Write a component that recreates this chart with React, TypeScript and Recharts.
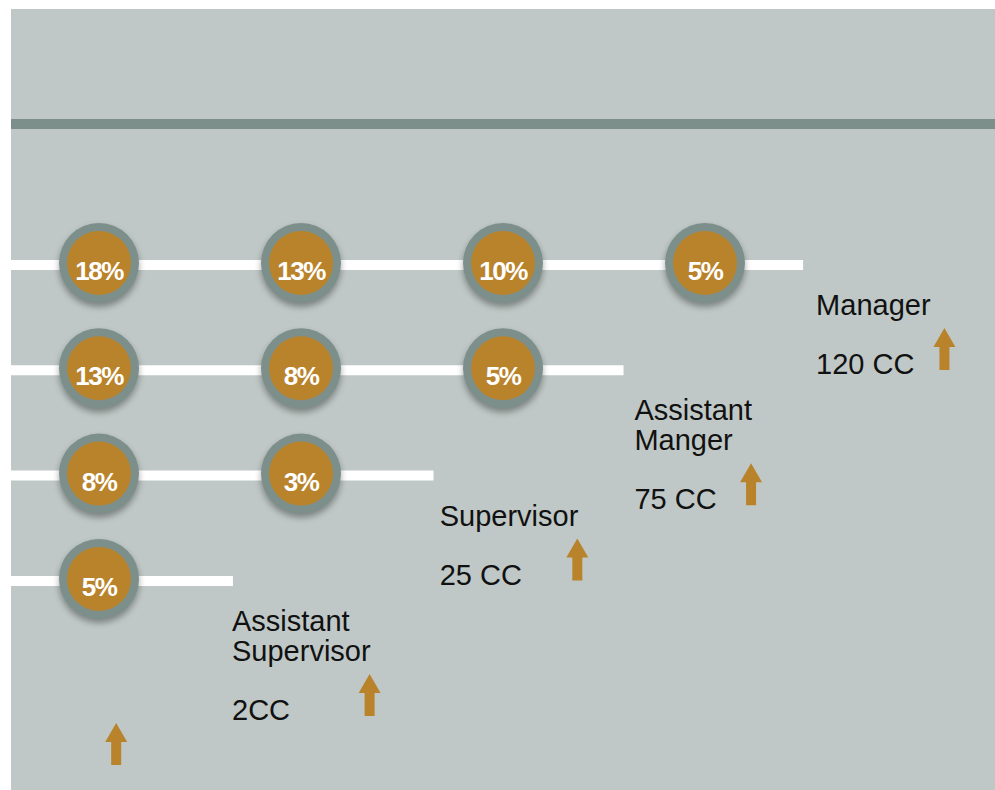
import { ReferenceLine, Scatter, ScatterChart, XAxis, YAxis } from "recharts";

// levels, top row first
const levelNames = [["Manager"], ["Assistant", "Manger"], ["Supervisor"], ["Assistant", "Supervisor"]];
const credits = ["120 CC", "75 CC", "25 CC", "2CC"];
const rates = [
  [18, 13, 10, 5],
  [13, 8, 5],
  [8, 3],
  [5],
];

const W = 984;
const H = 781;
const COL_PX = 202;
const ROW_PX = 105.3;
const X0 = -88 / COL_PX;
const Y0 = -256 / ROW_PX;
const X1 = X0 + W / COL_PX;
const Y1 = Y0 + H / ROW_PX;

const BG = "#BFC8C6";
const RING = "#7C8F8A";
const GOLD = "#B9832B";
const FONT = "'Liberation Sans', Arial, Helvetica, sans-serif";
const LABEL_SIZE = 29;

// track end / label start (in column units) for a row holding n bubbles
const lineEnd = (n: number) => (21.9 + 216.3 * n - 5.25 * n * n - 99) / COL_PX;
const labelStart = (n: number) => (11.3 + 227.2 * n - 6.5 * n * n - 99) / COL_PX;

let ctx: CanvasRenderingContext2D | null = null;
function textWidth(s: string) {
  if (!ctx) ctx = document.createElement("canvas").getContext("2d");
  if (!ctx) return s.length * LABEL_SIZE * 0.5;
  ctx.font = `${LABEL_SIZE}px ${FONT}`;
  return ctx.measureText(s).width;
}

const circles = rates.flatMap((row, r) => row.map((v, c) => ({ x: c, y: r, v })));
const labels = levelNames.map((lines, r) => ({ x: labelStart(rates[r].length), y: r, lines, cc: credits[r] }));
const entry = [{ x: 0.085, y: 4.55 }];

function Arrow({ x, top, bottom }: { x: number; top: number; bottom: number }) {
  const head = 19;
  return (
    <path
      d={`M${x},${top} L${x + 11},${top + head} L${x + 5},${top + head} L${x + 5},${bottom} L${x - 5},${bottom} L${x - 5},${top + head} L${x - 11},${top + head} Z`}
      fill={GOLD}
    />
  );
}

function Bubble(props: any) {
  const { cx, cy, payload } = props;
  return (
    <g>
      <circle cx={cx} cy={cy - 2} r={40} fill={RING} style={{ filter: "drop-shadow(0px 4px 3px rgba(0,0,0,0.35))" }} />
      <circle cx={cx} cy={cy - 2} r={32} fill={GOLD} />
      <text
        x={cx}
        y={cy + 15}
        textAnchor="middle"
        fill="#fff"
        fontSize={26}
        fontWeight="bold"
        letterSpacing={-1.5}
        fontFamily={FONT}
      >
        {payload.v}%
      </text>
    </g>
  );
}

function LevelLabel(props: any) {
  const { cx, cy, payload } = props;
  const lines: string[] = payload.lines;
  const firstY = cy + 40;
  const ccY = firstY + (lines.length - 1) * 30 + 59;
  const style = { fontSize: LABEL_SIZE, fontFamily: FONT, fill: "#111" };
  const nameW = Math.max(...lines.map(textWidth));
  const arrowX = cx + Math.max(nameW - 1, textWidth(payload.cc) + 30);
  return (
    <g>
      {lines.map((s, i) => (
        <text key={s} x={cx} y={firstY + i * 30 + 10} {...style}>
          {s}
        </text>
      ))}
      <text x={cx} y={ccY + 10} {...style}>
        {payload.cc}
      </text>
      <Arrow x={arrowX} top={ccY - 36} bottom={ccY + 6} />
    </g>
  );
}

function EntryArrow(props: any) {
  const { cx, cy } = props;
  return <Arrow x={cx} top={cy - 21} bottom={cy + 21} />;
}

const Empty = () => <g />;

export default function App() {
  return (
    <div style={{ position: "fixed", left: 11, top: 9, width: W, height: H, background: BG }}>
      <ScatterChart width={W} height={H} margin={{ top: 0, right: 0, bottom: 0, left: 0 }}>
        <XAxis type="number" dataKey="x" domain={[X0, X1]} hide />
        <YAxis type="number" dataKey="y" domain={[Y0, Y1]} reversed hide />
        <ReferenceLine y={-141 / ROW_PX} stroke={RING} strokeWidth={10} />
        {rates.map((row, r) => (
          <Scatter
            key={`track-${r}`}
            data={[
              { x: X0, y: r },
              { x: lineEnd(row.length), y: r },
            ]}
            line={{ stroke: "#fff", strokeWidth: 10 }}
            shape={Empty}
            isAnimationActive={false}
          />
        ))}
        <Scatter data={circles} shape={Bubble} isAnimationActive={false} />
        <Scatter data={labels} shape={LevelLabel} isAnimationActive={false} />
        <Scatter data={entry} shape={EntryArrow} isAnimationActive={false} />
      </ScatterChart>
    </div>
  );
}
